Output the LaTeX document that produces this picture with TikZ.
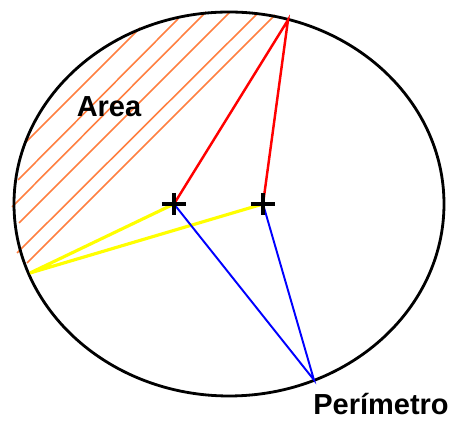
\documentclass[tikz,border=0pt]{standalone}
\usepackage{fontspec}
\setmainfont{Liberation Sans}
\usepackage{xcolor}
\definecolor{hatchorange}{HTML}{FF7F40}
\definecolor{focusyellow}{HTML}{FFFF00}
\definecolor{focusred}{HTML}{FF0000}
\definecolor{focusblue}{HTML}{0000FF}

\begin{document}
\begin{tikzpicture}[x=0.02cm, y=-0.02cm,
  rim/.style={line width=1.6pt, black},
  plusmark/.style={line width=2pt, black},
  label/.style={font=\fontsize{16.5}{19}\selectfont\bfseries, inner sep=0pt}]
\useasboundingbox (0,0) rectangle (461,421);

% hatched area
\foreach \xa/\ya/\xb/\yb in {25/143/140/28, 18/180/178/19, 12/207/206/12,
    19/223/230/12, 17/253/257/14, 27/263/275/15}
  \draw[hatchorange, line width=0.9pt] (\xa,\ya) -- (\xb,\yb);
\draw[rim] (229,204) ellipse [x radius=215, y radius=192];

\coordinate (f1) at (174,204);
\coordinate (f2) at (263,204);
\coordinate (ptop) at (288,20);
\coordinate (pleft) at (30,273);
\coordinate (pbottom) at (314,380);

\draw[focusred, line width=1.4pt] (f1) -- (ptop) -- (f2);
\draw[focusyellow, line width=1.8pt] (f1) -- (pleft) -- (f2);
\draw[focusblue, line width=1.1pt] (f1) -- (pbottom) -- (f2);

\draw[plusmark] (f1) ++(-12,0) -- ++(24,0) (f1) ++(0,-11) -- ++(0,22);
\draw[plusmark] (f2) ++(-12,0) -- ++(24,0) (f2) ++(0,-11) -- ++(0,22);

\node[label] (area) at (109,107) {Area};
\node[label, anchor=north west] (perim) at (313,393) {Perímetro};
\end{tikzpicture}
\end{document}
